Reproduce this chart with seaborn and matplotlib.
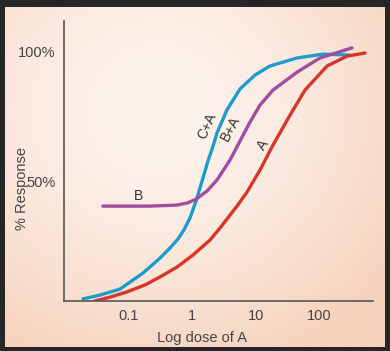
import numpy as np
import pandas as pd
import matplotlib
matplotlib.use("Agg")
import matplotlib.pyplot as plt
import seaborn as sns

# ---- data ----
dose_ca = [0.0195, 0.036, 0.074, 0.170, 0.315, 0.452, 0.603, 0.749, 0.93, 1.16, 1.44,
           1.78, 2.14, 2.47, 3.54, 5.67, 9.75, 16.8, 44.5, 114, 302]
resp_ca = [4.4, 5.9, 8.2, 14.4, 20.2, 24.1, 27.6, 31.1, 35.7, 42.3, 50.0,
           57.7, 63.5, 68.6, 77.5, 85.6, 91.0, 94.5, 97.6, 99.1, 98.7]

dose_ba = [0.040, 0.219, 0.58, 0.84, 1.16, 1.72, 2.47, 3.95, 5.88, 8.14, 11.7,
           18.7, 44.5, 102, 325]
resp_ba = [40.3, 40.3, 40.7, 41.5, 43.0, 46.1, 50.4, 58.1, 66.2, 72.8, 79.4,
           85.2, 92.1, 97.6, 101.5]

dose_a = [0.030, 0.052, 0.095, 0.183, 0.315, 0.58, 1.04, 1.92, 2.75, 5.09, 7.30,
          11.7, 18.7, 34.6, 59.5, 132, 271, 520]
resp_a = [3.6, 5.1, 7.1, 9.8, 12.9, 16.7, 21.4, 27.2, 31.8, 40.3, 45.7,
          54.3, 63.9, 75.5, 85.2, 94.5, 98.3, 99.5]

x_ticks = [0.1, 1, 10, 100]
x_ticklabels = ["0.1", "1", "10", "100"]
y_ticks = [50, 100]
y_ticklabels = ["50%", "100%"]

curve_labels = ["C+A", "B+A", "A", "B"]
label_pos = [(1.75, 71.5), (4.0, 70.5), (13.2, 64.0), (0.147, 44.2)]
label_rot = [66, 62, 57, 0]

colors = {"C+A": "#1c9ccc", "B+A": "#a04c9f", "A": "#d8352a"}

df = pd.concat([
    pd.DataFrame({"dose": dose_ca, "resp": resp_ca, "curve": "C+A"}),
    pd.DataFrame({"dose": dose_ba, "resp": resp_ba, "curve": "B+A"}),
    pd.DataFrame({"dose": dose_a, "resp": resp_a, "curve": "A"}),
])

sns.set_theme(style="white")
plt.rcParams["font.family"] = ["Liberation Sans", "DejaVu Sans"]

W, H = 390, 351
fig = plt.figure(figsize=(W / 100, H / 100), dpi=100, facecolor="#262626")

# panel background with soft gradient
bg = fig.add_axes([5 / W, (H - 347) / H, 380 / W, 340 / H])
ny, nx = 200, 220
yy, xx = np.mgrid[0:ny, 0:nx]
d = np.sqrt(((xx - nx * 0.4) / (nx * 0.75)) ** 2 + ((yy - ny * 0.3) / (ny * 0.8)) ** 2)
t = np.clip(d, 0, 1) ** 1.6
c0 = np.array([253, 244, 238]) / 255
c1 = np.array([246, 210, 188]) / 255
img = c0[None, None, :] * (1 - t[..., None]) + c1[None, None, :] * t[..., None]
bg.imshow(img, aspect="auto", interpolation="bilinear")
bg.axis("off")

ax = fig.add_axes([64 / W, (H - 301) / H, (373 - 64) / W, (301 - 21) / H])
ax.patch.set_alpha(0)

sns.lineplot(data=df, x="dose", y="resp", hue="curve", palette=colors,
             linewidth=2.4, sort=False, legend=False, ax=ax)
for ln in ax.get_lines():
    ln.set_solid_capstyle("round")
    ln.set_solid_joinstyle("round")
ax.set_xscale("log")
ax.set_xlim(0.0098, 694)
ax.set_ylim(3.6, 111.9)

for s in ["top", "right"]:
    ax.spines[s].set_visible(False)
for s in ["left", "bottom"]:
    ax.spines[s].set_color("#555555")
    ax.spines[s].set_linewidth(1.2)

ax.set_xticks(x_ticks)
ax.set_xticklabels(x_ticklabels)
ax.xaxis.set_minor_locator(matplotlib.ticker.NullLocator())
ax.set_yticks(y_ticks)
ax.set_yticklabels(y_ticklabels)
ax.tick_params(axis="x", direction="inout", length=8, width=1.2, color="#555555",
               labelsize=10.5, labelcolor="#444444", pad=2)
ax.tick_params(axis="y", direction="inout", length=12, width=1.2, color="#555555",
               labelsize=10.5, labelcolor="#444444", pad=0)
ax.set_xlabel("")
ax.set_ylabel("")

fig.text(202 / W, 1 - 338 / H, "Log dose of A", ha="center", va="center",
         fontsize=10.5, color="#444444")
fig.text(22 / W, 1 - 189 / H, "% Response", ha="center", va="center",
         rotation=90, fontsize=10.5, color="#444444")

for lab, (lx, ly), rot in zip(curve_labels, label_pos, label_rot):
    ax.text(lx, ly, lab, ha="center", va="center", rotation=rot,
            fontsize=10, color="#333333")

fig.savefig("out.png", dpi=100, facecolor=fig.get_facecolor())
